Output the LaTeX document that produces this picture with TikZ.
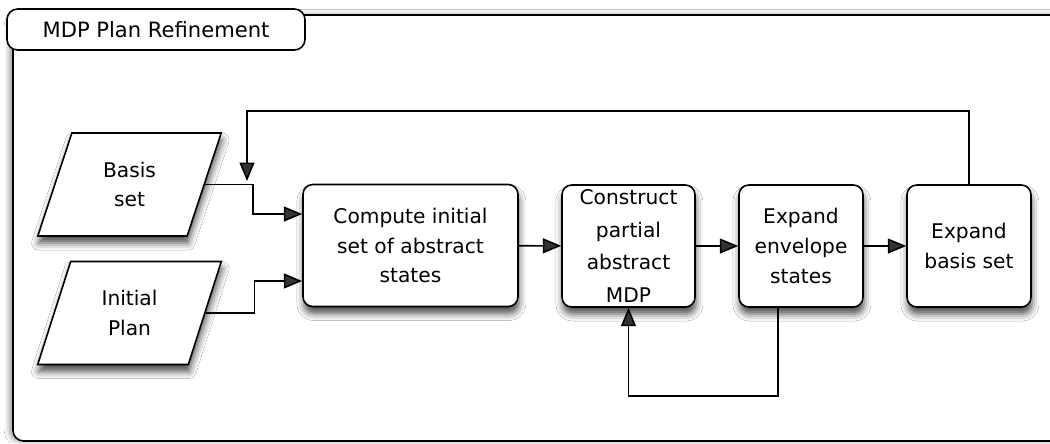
\documentclass[tikz,border=0pt]{standalone}
\usepackage{fontspec}
\setmainfont{DejaVu Sans}
\usetikzlibrary{arrows.meta,shapes.geometric,shadows.blur}

\tikzset{
  soft/.style={blur shadow={shadow xshift=.5pt,shadow yshift=-4pt,shadow blur radius=4pt,shadow opacity=70}},
  stepbox/.style={draw,fill=white,line width=.9pt,rounded corners=5.5pt,soft,align=center,
    inner sep=0pt,minimum height=2.44cm,font=\fontsize{11.5}{17}\selectfont},
  datain/.style={draw,fill=white,line width=.9pt,soft,trapezium,trapezium left angle=71,
    trapezium right angle=109,trapezium stretches=true,minimum width=3.68cm,minimum height=2.06cm,
    inner sep=0pt,align=center,font=\fontsize{11.5}{17}\selectfont},
  arr/.style={-{Triangle[length=10.5pt,width=8.5pt]},line width=.9pt},
}

\begin{document}
\begin{tikzpicture}[x=0.02cm,y=-0.02cm]

  \clip (0,0) rectangle (1050,443);
  \fill[white] (0,0) rectangle (1050,443);

  % frame and its tab
  \draw[fill=white,line width=.9pt,rounded corners=6pt,blur shadow={shadow xshift=-2pt,shadow yshift=0pt,shadow blur radius=3pt,shadow opacity=40}]
    (13,15) rectangle (1090,441);
  \node[draw,fill=white,line width=.9pt,rounded corners=6pt,inner sep=0pt,minimum width=5.96cm,minimum height=0.82cm,
        font=\fontsize{12}{14}\selectfont] (title) at (156,29.5) {MDP Plan Refinement};

  % inputs
  \node[datain] (basis) at (129.5,184.5) {Basis\\set};
  \node[datain] (plan)  at (129.5,313)   {Initial\\Plan};

  % steps
  \begin{scope}[every node/.style={stepbox}]
    \node[minimum width=4.3cm]  (compute)   at (410.5,245.5) {Compute initial\\set of abstract\\states};
    \node[minimum width=2.66cm,font=\fontsize{11.5}{18.5}\selectfont] (construct) at (628.5,246) {Construct\\partial\\abstract\\MDP};
    \node[minimum width=2.48cm] (envelope)  at (801,246)   {Expand\\envelope\\states};
    \node[minimum width=2.48cm] (expbasis)  at (969,246)   {Expand\\basis set};
  \end{scope}

  \coordinate (back) at (247,181);
  \coordinate (loop) at (778,307);

  \begin{scope}[every path/.style={arr}]
    \draw (basis.east) -- ++(48,0) |- ([yshift=0.63cm]compute.west);
    \draw (plan.east) -- ++(49,0) |- ([yshift=-0.71cm]compute.west);
    \draw (compute) -- (construct);
    \draw (construct) -- (envelope);
    \draw (envelope) -- (expbasis);
    \draw (expbasis.north) -- ++(0,-73) -| (back);
    \draw (loop) -- ++(0,89) -| (construct.south);
  \end{scope}

\end{tikzpicture}
\end{document}
